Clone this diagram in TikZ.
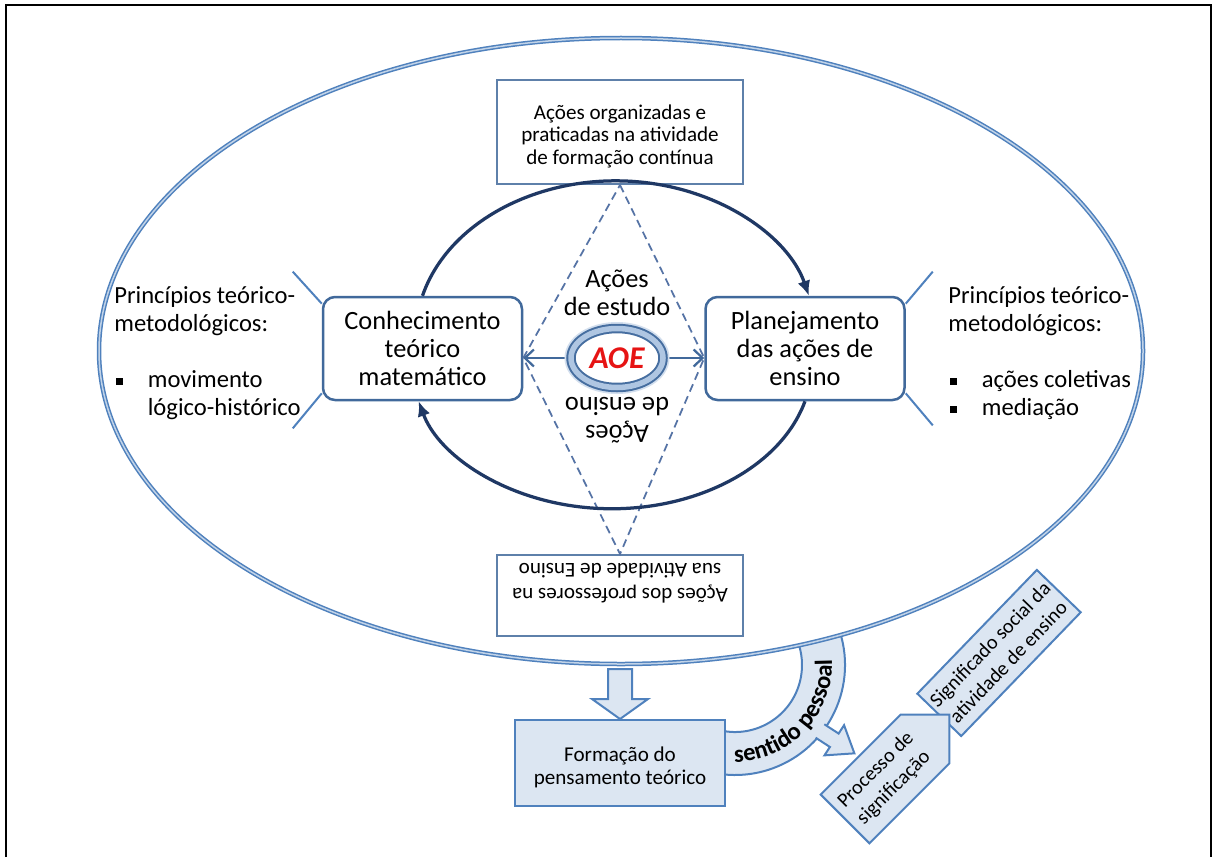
\documentclass[tikz,border=0pt]{standalone}
\usepackage{fontspec}
\setmainfont{Carlito}
\usepackage{tikz}
\usetikzlibrary{shapes,arrows,arrows.meta,positioning,decorations.text}

\definecolor{ringblue}{RGB}{79,129,189}
\definecolor{navyline}{RGB}{31,56,100}
\definecolor{boxblue}{RGB}{65,105,155}
\definecolor{dashblue}{RGB}{85,115,165}
\definecolor{paleblue}{RGB}{220,230,242}
\definecolor{ringdark}{RGB}{70,110,160}
\definecolor{ringlight}{RGB}{175,198,226}
\definecolor{aoered}{RGB}{230,20,20}

\newcommand{\bul}{\makebox[6.7mm][l]{\hspace{0.4mm}\rule[0.45mm]{1.4mm}{1.4mm}}}

\tikzset{
  mainbox/.style={rectangle, rounded corners=2.4mm, draw=boxblue, line width=0.5mm, fill=white, align=center, inner sep=0, minimum width=39.8mm, minimum height=20.6mm, font=\fontsize{15}{16}\selectfont},
  textbox/.style={rectangle, draw=boxblue!85, line width=0.4mm, fill=white, inner sep=0, minimum width=49.2mm},
  boxlabel/.style={align=center, inner sep=0, font=\fontsize{12}{12.8}\selectfont},
  palebox/.style={draw=ringblue, line width=0.4mm, fill=paleblue, align=center, inner sep=0, font=\fontsize{11.5}{14.5}\selectfont},
  cycleline/.style={draw=navyline, line width=0.65mm, -{Latex[length=3mm,width=2.6mm]}},
  sideline/.style={draw=ringblue, line width=0.4mm},
  princ/.style={anchor=north west, align=left, inner sep=0, font=\fontsize{14}{16}\selectfont},
  blockarrow/.style={fill=paleblue, draw=ringblue, line width=0.4mm, line join=miter},
}

\begin{document}
\begin{tikzpicture}[x=0.2mm, y=-0.2mm]
  \useasboundingbox (0,0) rectangle (1213,857);
  \draw[line width=0.55mm] (6,857) -- (6,5) -- (1211,5) -- (1211,857);

  \coordinate (sp) at (735,665);
  \draw[blockarrow] (sp) ++(-20:110) arc[start angle=-20, end angle=100, radius=110]
    -- ([shift={(100:67)}]sp) arc[start angle=100, end angle=-20, radius=67] -- cycle;
  \begin{scope}[shift={(820,731)}, rotate=-33]
    \fill[paleblue] (-8,-8) -- (17,-8) -- (17,-18) -- (41,0) -- (17,18) -- (17,8) -- (-8,8) -- cycle;
    \draw[ringblue, line width=0.4mm, line join=miter] (0,-8) -- (17,-8) -- (17,-18) -- (41,0) -- (17,18) -- (17,8) -- (0,8);
  \end{scope}
  \path[decorate, decoration={text along path, text align=center,
      text={|\fontsize{14}{14}\selectfont\bfseries|sentido pessoal}}]
    ([shift={(95:97)}]sp) arc[start angle=95, end angle=-8, radius=97];

  \draw[draw=ringblue, double=ringblue!35, double distance=0.3mm, line width=0.3mm, fill=white]
    (621,351) ellipse [x radius=522, y radius=313];

  \node (topbox) [textbox, minimum height=20.8mm] at (620,132) {};
  \node (toplbl) [boxlabel] at (620,136) {Ações organizadas e\\praticadas na atividade\\de formação contínua};
  \node (botbox) [textbox, minimum height=16.2mm] at (620,595.5) {};
  \node (botlbl) [boxlabel, rotate=180, font=\fontsize{12}{14}\selectfont] at (620,583) {Ações dos professores na\\sua Atividade de Ensino};

  \node (ck) [mainbox] at (422.5,348.5) {Conhecimento\\teórico\\matemático};
  \node (pl) [mainbox] at (805,348.5) {Planejamento\\das ações de\\ensino};

  \coordinate (c) at (617,358);
  \draw[dashed, dash pattern=on 1.6mm off 1mm, draw=dashblue, line width=0.35mm]
    (topbox.south) -- (pl.west |- c) -- (botbox.north) -- (ck.east |- c) -- cycle;
  \draw[draw=boxblue, line width=0.45mm, {Straight Barb[length=1.8mm,width=3.4mm]}-{Straight Barb[length=1.8mm,width=3.4mm]}]
    (ck.east |- c) -- (pl.west |- c);

  \draw[cycleline] (ck.north) arc[start angle=195, end angle=345, x radius=200, y radius=155];
  \draw[cycleline] (pl.south) arc[start angle=15, end angle=165, x radius=200, y radius=145];

  \node (aoe) [ellipse, minimum width=18.4mm, minimum height=11.8mm, inner sep=0, fill=white,
    preaction={draw=ringblue!25, line width=2.6mm},
    draw=ringdark, line width=0.4mm, double=ringlight, double distance=1.1mm,
    text=aoered, font=\fontsize{18}{18}\selectfont\bfseries\itshape] at (c) {AOE};
  \node (estudo) [align=center, inner sep=0, font=\fontsize{15}{16}\selectfont] at (617,292.5) {Ações\\de estudo};
  \node (ensino) [align=center, inner sep=0, rotate=180, font=\fontsize{15}{16}\selectfont] at (617,420) {Ações\\de ensino};

  \draw[sideline] (ck.156) -- ++(-29,-32);
  \draw[sideline] (ck.204) -- ++(-29,35);
  \draw[sideline] (pl.24) -- ++(27,-32);
  \draw[sideline] (pl.336) -- ++(27,32);

  \node (lprin) [princ] at (114,286) {Princípios teórico-\\metodológicos:\\[5.5mm]\bul movimento\\\hspace*{6.7mm}lógico-histórico};
  \node (rprin) [princ] at (948,286) {Princípios teórico-\\metodológicos:\\[5.5mm]\bul ações coletivas\\\bul mediação};

  \node (form) [palebox, rectangle, minimum width=42mm, minimum height=17.2mm] at (620,763) {};
  \node (formlbl) [boxlabel, font=\fontsize{12}{13}\selectfont] at (620,767) {Formação do\\pensamento teórico};
  \draw[blockarrow] (form.north) -- ++(-28,-20) -- ++(16,0) -- ++(0,-30) -- ++(24,0) -- ++(0,30) -- ++(16,0) -- cycle;

  \node (sig) [palebox, rectangle, rotate=46, minimum width=34.4mm, minimum height=12.2mm] at (999,653) {Significado social da\\atividade de ensino};
  \node (proc) [palebox, signal, signal to=east, signal pointer angle=90, rotate=45, minimum width=29.5mm, minimum height=13.8mm] at (885,779) {Processo de\\significação};
\end{tikzpicture}
\end{document}
